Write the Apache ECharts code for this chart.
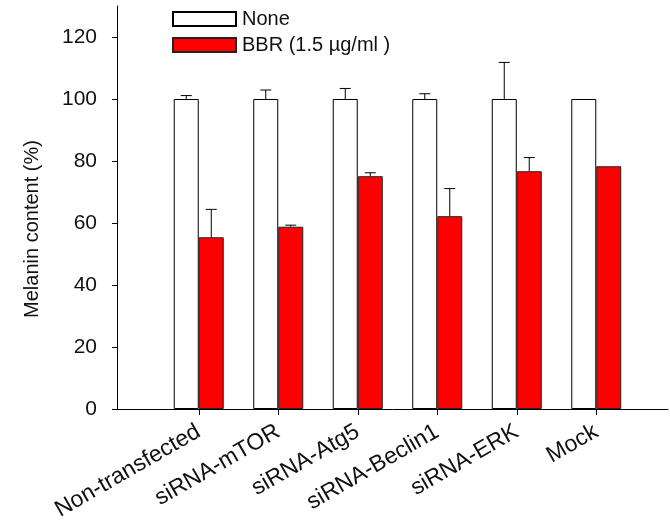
<!DOCTYPE html>
<html>
<head>
<meta charset="utf-8">
<script src="https://cdn.jsdelivr.net/npm/echarts@6/dist/echarts.min.js"></script>
<style>
html,body{margin:0;padding:0;background:#fff;}
#chart{width:670px;height:527px;}
</style>
</head>
<body>
<div id="chart"></div>
<script>
var categories = ['Non-transfected', 'siRNA-mTOR', 'siRNA-Atg5', 'siRNA-Beclin1', 'siRNA-ERK', 'Mock'];
var noneValues = [100, 100, 100, 100, 100, 100];
var noneErrors = [1.1, 2.9, 3.4, 1.7, 11.8, 0];
var bbrValues = [55.4, 58.8, 75.1, 62.2, 76.7, 78.3];
var bbrErrors = [9.0, 0.5, 1.1, 8.9, 4.4, 0];
var yTicks = [0, 20, 40, 60, 80, 100, 120];

var FONT = 'Liberation Sans, Arial, sans-serif';
var chart = echarts.init(document.getElementById('chart'));

// error bar data: [categoryIndex, mean, sd]
function errData(values, errors){
	var out = [];
	for (var i = 0; i < values.length; i++) {
		out.push([i, values[i], errors[i]]);
	}
	return out;
}

function errRender(offset){
	return function(params, api){
		var sd = api.value(2);
		if (!sd) {
			return;
		}
		var base = api.coord([api.value(0), api.value(1)]);
		var top = api.coord([api.value(0), api.value(1) + sd]);
		var cx = base[0] + offset;
		var style = {stroke: '#000', lineWidth: 1};
		return {
			type: 'group',
			children: [
				{type: 'line', shape: {x1: cx, y1: base[1], x2: cx, y2: top[1]}, style: style},
				{type: 'line', shape: {x1: cx - 5.5, y1: top[1], x2: cx + 5.5, y2: top[1]}, style: style}
			]
		};
	};
}

var option = {
	backgroundColor: '#fff',
	animation: false,
	textStyle: {fontFamily: FONT},
	grid: [
		{left: 117, right: 2, top: 6, bottom: 118},
		{left: 159, right: 34, top: 6, bottom: 118}
	],
	legend: {
		orient: 'vertical',
		left: 167,
		top: 4,
		itemWidth: 63,
		itemHeight: 14,
		itemGap: 6,
		icon: 'rect',
		data: ['None', 'BBR (1.5 µg/ml )'],
		textStyle: {fontSize: 20, color: '#111', fontFamily: FONT, padding: [0, 0, 0, 1]}
	},
	graphic: [
		{
			type: 'text',
			x: 32,
			y: 229,
			rotation: Math.PI / 2,
			style: {
				text: 'Melanin content (%)',
				font: '20px ' + FONT,
				fill: '#111',
				align: 'center',
				verticalAlign: 'middle'
			}
		}
	],
	xAxis: [
		{
			gridIndex: 0,
			type: 'value',
			min: 0,
			max: 1,
			axisLine: {show: true, lineStyle: {color: '#000', width: 1}},
			axisTick: {show: false},
			axisLabel: {show: false},
			splitLine: {show: false}
		},
		{
			gridIndex: 1,
			type: 'category',
			data: categories,
			axisLine: {show: false},
			axisTick: {show: true, alignWithLabel: true, length: 6, lineStyle: {color: '#000'}},
			axisLabel: {rotate: 30, interval: 0, margin: 21, fontSize: 23, color: '#111', fontFamily: FONT},
			splitLine: {show: false}
		}
	],
	yAxis: [
		{
			gridIndex: 0,
			type: 'value',
			min: 0,
			max: 130,
			interval: 20,
			axisLine: {show: true, lineStyle: {color: '#000', width: 1}},
			axisTick: {show: true, length: 5, customValues: yTicks, lineStyle: {color: '#000'}},
			axisLabel: {margin: 20, fontSize: 21, color: '#111', fontFamily: FONT, customValues: yTicks},
			splitLine: {show: false}
		},
		{
			gridIndex: 1,
			type: 'value',
			min: 0,
			max: 130,
			show: false,
			splitLine: {show: false}
		}
	],
	series: [
		{
			name: 'None',
			type: 'bar',
			xAxisIndex: 1,
			yAxisIndex: 1,
			barWidth: 25,
			barGap: '0%',
			data: noneValues,
			itemStyle: {color: '#fff', borderColor: '#000', borderWidth: 1}
		},
		{
			name: 'BBR (1.5 µg/ml )',
			type: 'bar',
			xAxisIndex: 1,
			yAxisIndex: 1,
			barWidth: 25,
			barGap: '0%',
			data: bbrValues,
			itemStyle: {color: '#ff0000', borderColor: '#222', borderWidth: 1}
		},
		{
			type: 'custom',
			xAxisIndex: 1,
			yAxisIndex: 1,
			z: 5,
			renderItem: errRender(-12.5),
			data: errData(noneValues, noneErrors)
		},
		{
			type: 'custom',
			xAxisIndex: 1,
			yAxisIndex: 1,
			z: 5,
			renderItem: errRender(12.5),
			data: errData(bbrValues, bbrErrors)
		}
	]
};
chart.setOption(option);
</script>
</body>
</html>
